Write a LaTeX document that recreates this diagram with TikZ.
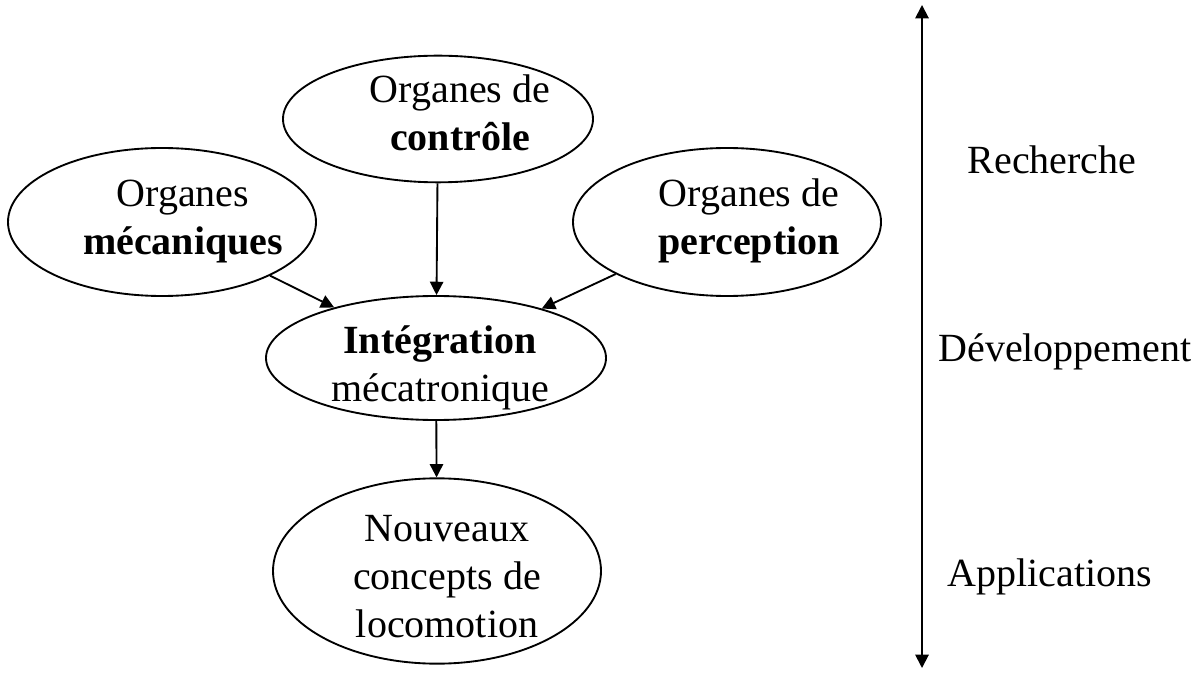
\documentclass[tikz,border=0pt]{standalone}
\usepackage{fontspec}
\setmainfont{Liberation Serif}
\usetikzlibrary{shapes.geometric,arrows.meta}
\begin{document}
\begin{tikzpicture}[x=0.75pt,y=-0.75pt,
  ell/.style={draw,ellipse,line width=1.4pt,inner sep=0pt},
  txt/.style={align=center,inner sep=0pt,font=\fontsize{30}{36}\selectfont},
  side/.style={anchor=base,inner sep=0pt,font=\fontsize{30}{36}\selectfont},
  conn/.style={line width=1.4pt,-{Triangle[length=10pt,width=10pt]}},
  dbl/.style={line width=1.4pt,{Triangle[length=10pt,width=10pt]}-{Triangle[length=10pt,width=10pt]}}]
\useasboundingbox (0,0) rectangle (1202,673);
% ellipses
\node[ell,minimum width=232.5pt,minimum height=95pt] (ctl) at (438,119) {};
\node[ell,minimum width=231pt,minimum height=111pt] (mec) at (162,222) {};
\node[ell,minimum width=231pt,minimum height=111pt] (per) at (727,222) {};
\node[ell,minimum width=255pt,minimum height=93pt] (int) at (436,358) {};
\node[ell,minimum width=246pt,minimum height=139pt] (nou) at (437,571) {};
% texts
\node[txt] (ctlt) at (460,113) {Organes de\\\textbf{contrôle}};
\node[txt] (mect) at (183,222) {Organes\\\textbf{mécaniques}};
\node[txt] (pert) at (749,221) {Organes de\\\textbf{perception}};
\node[txt] (intt) at (440,368) {\textbf{Intégration}\\mécatronique};
\node[txt] (nout) at (447,577) {Nouveaux\\concepts de\\locomotion};
% connectors
\draw[conn] (ctl) -- (int);
\draw[conn] (mec) -- (int);
\draw[conn] (per) -- (int);
\draw[conn] (int) -- (nou);
% vertical axis
\coordinate (axtop) at (922,5);
\coordinate (axbot) at (922,668);
\draw[dbl] (axtop) -- (axbot);
\node[side] (rech) at (1052,174) {Recherche};
\node[side] (dev) at (1065,361) {Développement};
\node[side] (app) at (1050,586) {Applications};
\end{tikzpicture}
\end{document}
